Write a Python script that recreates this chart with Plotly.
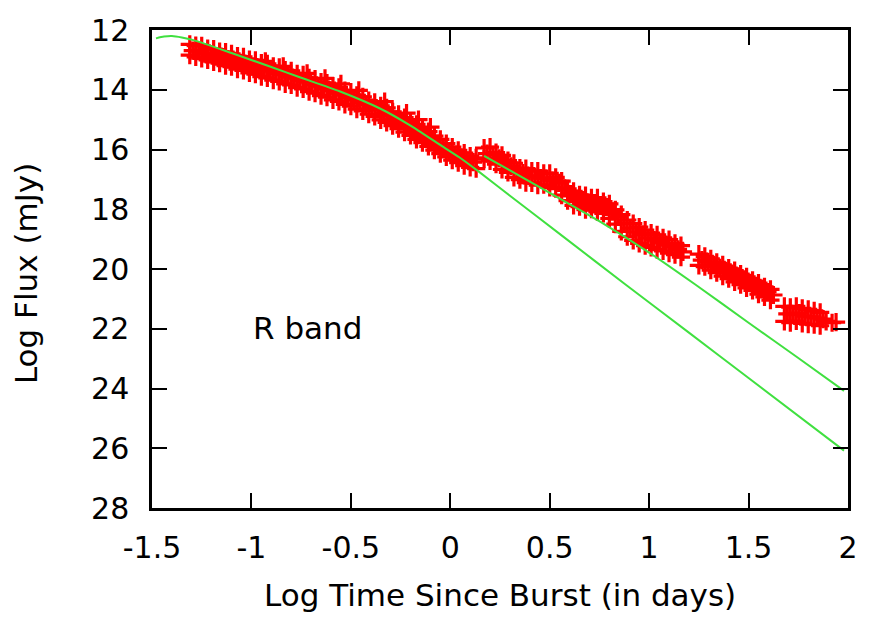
import plotly.graph_objects as go

# ---------------- observed R-band points (log t [days], log flux) ----------------
# early decline, three rows across the band
early_t = [-1.31, -1.28, -1.25, -1.22, -1.19, -1.16, -1.13, -1.10, -1.07, -1.04,
           -1.01, -0.98, -0.95, -0.92, -0.89, -0.86, -0.83, -0.80, -0.77, -0.74,
           -0.71, -0.68, -0.65, -0.62, -0.59, -0.56, -0.53, -0.50, -0.47, -0.44,
           -0.41, -0.38, -0.35, -0.32, -0.29, -0.26, -0.23, -0.20, -0.17, -0.14,
           -0.11, -0.08, -0.05, -0.02, 0.01, 0.04, 0.07, 0.10, 0.13]
early_hi = [12.48, 12.52, 12.53, 12.62, 12.64, 12.72, 12.74, 12.80, 12.87, 12.90,
            12.99, 13.02, 13.11, 13.13, 13.22, 13.25, 13.34, 13.37, 13.47, 13.50,
            13.60, 13.64, 13.74, 13.78, 13.88, 13.92, 14.03, 14.08, 14.19, 14.24,
            14.36, 14.42, 14.54, 14.61, 14.74, 14.82, 14.93, 15.06, 15.16, 15.30,
            15.40, 15.55, 15.66, 15.80, 15.92, 16.03, 16.12, 16.22, 16.28]
early_lo = [12.84, 12.90, 12.95, 13.00, 13.07, 13.11, 13.19, 13.23, 13.31, 13.35,
            13.44, 13.48, 13.56, 13.60, 13.68, 13.72, 13.80, 13.84, 13.93, 13.97,
            14.06, 14.11, 14.20, 14.25, 14.34, 14.39, 14.49, 14.55, 14.65, 14.71,
            14.82, 14.89, 15.01, 15.09, 15.20, 15.30, 15.42, 15.53, 15.66, 15.77,
            15.90, 16.02, 16.14, 16.25, 16.36, 16.44, 16.54, 16.60, 16.64]
early_mid_t = [-1.295, -1.265, -1.235, -1.205, -1.175, -1.145, -1.115, -1.085, -1.055, -1.025,
               -0.995, -0.965, -0.935, -0.905, -0.875, -0.845, -0.815, -0.785, -0.755, -0.725,
               -0.695, -0.665, -0.635, -0.605, -0.575, -0.545, -0.515, -0.485, -0.455, -0.425,
               -0.395, -0.365, -0.335, -0.305, -0.275, -0.245, -0.215, -0.185, -0.155, -0.125,
               -0.095, -0.065, -0.035, -0.005, 0.025, 0.055, 0.085, 0.115]
early_mid = [12.69, 12.71, 12.79, 12.81, 12.89, 12.91, 12.99, 13.03, 13.10, 13.14,
             13.22, 13.26, 13.34, 13.37, 13.45, 13.49, 13.57, 13.61, 13.70, 13.74,
             13.84, 13.88, 13.97, 14.02, 14.11, 14.17, 14.26, 14.33, 14.42, 14.49,
             14.60, 14.67, 14.78, 14.86, 14.99, 15.07, 15.21, 15.31, 15.45, 15.55,
             15.70, 15.80, 15.95, 16.05, 16.17, 16.26, 16.36, 16.42]
stray_t = [-0.93, -0.84, -0.72, -0.63, -0.55, -0.46, -0.33, -0.22, -0.16, -0.10]
stray_f = [13.05, 13.22, 13.45, 13.62, 13.80, 14.02, 14.40, 14.78, 15.00, 15.25]

# re-brightening segment
rebr_t = [0.17, 0.20, 0.23, 0.26, 0.29, 0.32, 0.35, 0.38, 0.41, 0.44,
          0.47, 0.50, 0.53, 0.56, 0.59, 0.62, 0.65, 0.68, 0.71, 0.74,
          0.77, 0.80, 0.83, 0.86, 0.89, 0.92, 0.95, 0.98, 1.01, 1.04,
          1.07, 1.10, 1.13, 1.16]
rebr_hi = [15.95, 15.92, 16.10, 16.20, 16.37, 16.46, 16.62, 16.64, 16.72, 16.72,
           16.80, 16.80, 16.93, 17.06, 17.32, 17.40, 17.52, 17.54, 17.62, 17.62,
           17.74, 17.82, 18.02, 18.18, 18.36, 18.48, 18.60, 18.70, 18.80, 18.86,
           18.96, 19.02, 19.14, 19.22]
rebr_lo = [16.32, 16.38, 16.49, 16.67, 16.77, 16.93, 17.01, 17.11, 17.12, 17.19,
           17.18, 17.27, 17.31, 17.53, 17.71, 17.87, 17.91, 18.01, 18.00, 18.09,
           18.14, 18.31, 18.50, 18.74, 18.92, 19.04, 19.14, 19.22, 19.28, 19.35,
           19.39, 19.47, 19.52, 19.60]
rebr_mid_t = [0.185, 0.215, 0.245, 0.275, 0.305, 0.335, 0.365, 0.395, 0.425, 0.455,
              0.485, 0.515, 0.545, 0.575, 0.605, 0.635, 0.665, 0.695, 0.725, 0.755,
              0.785, 0.815, 0.845, 0.875, 0.905, 0.935, 0.965, 0.995, 1.025, 1.055,
              1.085, 1.115, 1.145, 1.170]
rebr_mid = [16.14, 16.18, 16.30, 16.45, 16.56, 16.70, 16.79, 16.88, 16.91, 16.96,
            16.97, 17.04, 17.12, 17.30, 17.49, 17.64, 17.69, 17.78, 17.79, 17.86,
            17.93, 18.08, 18.26, 18.47, 18.63, 18.76, 18.85, 18.96, 19.03, 19.12,
            19.18, 19.26, 19.34, 19.43]

# late cluster 1
late1_t = [1.25, 1.28, 1.31, 1.34, 1.37, 1.40, 1.43, 1.46, 1.49, 1.52, 1.55, 1.58, 1.61]
late1_hi = [19.50, 19.58, 19.66, 19.78, 19.86, 19.97, 20.05, 20.17, 20.26, 20.38, 20.47, 20.60, 20.68]
late1_lo = [19.88, 19.92, 20.04, 20.12, 20.24, 20.32, 20.43, 20.52, 20.63, 20.72, 20.84, 20.93, 21.04]
late1_mid_t = [1.265, 1.295, 1.325, 1.355, 1.385, 1.415, 1.445, 1.475, 1.505, 1.535, 1.565, 1.595, 1.625]
late1_mid = [19.70, 19.76, 19.86, 19.96, 20.06, 20.15, 20.25, 20.35, 20.46, 20.56, 20.66, 20.77, 20.87]

# late cluster 2
late2_t = [1.68, 1.71, 1.74, 1.77, 1.80, 1.83, 1.86]
late2_hi = [21.25, 21.28, 21.25, 21.32, 21.35, 21.40, 21.45]
late2_lo = [21.75, 21.80, 21.74, 21.82, 21.85, 21.86, 21.90]
late2_mid_t = [1.695, 1.725, 1.755, 1.785, 1.815, 1.845, 1.875]
late2_mid = [21.50, 21.52, 21.48, 21.58, 21.60, 21.64, 21.68]
tail_t = [1.89, 1.92, 1.94]
tail_f = [21.75, 21.80, 21.78]

# ---------------- model curves ----------------
model1_t = [-1.48, -1.44, -1.40, -1.35, -1.27, -1.10, -0.90, -0.757, -0.557, -0.356,
            -0.20, -0.055, 0.045, 0.145, 0.30, 0.563, 0.881, 1.20, 1.50, 1.98]
model1_f = [12.28, 12.22, 12.20, 12.25, 12.38, 12.77, 13.24, 13.58, 14.05, 14.62,
            15.20, 15.83, 16.26, 16.75, 17.55, 18.89, 20.52, 22.13, 23.65, 26.08]
model2_t = [0.17, 0.30, 0.50, 0.747, 1.00, 1.232, 1.50, 1.75, 1.98]
model2_f = [16.21, 16.70, 17.45, 18.39, 19.45, 20.52, 21.80, 22.98, 24.08]

x_tickvals = [-1.5, -1, -0.5, 0, 0.5, 1, 1.5, 2]
x_ticktext = ["-1.5", "-1", "-0.5", "0", "0.5", "1", "1.5", "2"]
y_tickvals = [12, 14, 16, 18, 20, 22, 24, 26, 28]
y_ticktext = ["12", "14", "16", "18", "20", "22", "24", "26", "28"]

obs_t = (early_t + early_t + early_mid_t + stray_t + rebr_t + rebr_t + rebr_mid_t
         + late1_t + late1_t + late1_mid_t + late2_t + late2_t + late2_mid_t + tail_t)
obs_f = (early_hi + early_lo + early_mid + stray_f + rebr_hi + rebr_lo + rebr_mid
         + late1_hi + late1_lo + late1_mid + late2_hi + late2_lo + late2_mid + tail_f)

FONT = "DejaVu Sans"
GREEN = "#40e040"

fig = go.Figure()
fig.add_trace(go.Scatter(
    x=obs_t, y=obs_f, mode="markers",
    marker=dict(symbol="cross-thin", size=13, color="#ff0000",
                line=dict(color="#ff0000", width=3.2)),
    showlegend=False, hoverinfo="skip"))
fig.add_trace(go.Scatter(x=model1_t, y=model1_f, mode="lines",
                         line=dict(color=GREEN, width=2, shape="spline", smoothing=0.6),
                         showlegend=False))
fig.add_trace(go.Scatter(x=model2_t, y=model2_f, mode="lines",
                         line=dict(color=GREEN, width=2, shape="spline", smoothing=0.6),
                         showlegend=False))

axis_common = dict(showline=True, linecolor="black", linewidth=2.5, mirror="ticks",
                   ticks="inside", ticklen=15, tickwidth=2.2, tickcolor="black",
                   showgrid=False, zeroline=False,
                   tickfont=dict(family=FONT, size=30, color="black"))

fig.update_xaxes(range=[-1.5, 2], tickmode="array", tickvals=x_tickvals,
                 ticktext=x_ticktext, ticklabelstandoff=11, **axis_common)
fig.update_yaxes(range=[28, 12], tickmode="array", tickvals=y_tickvals,
                 ticktext=y_ticktext, ticklabelstandoff=14, **axis_common)

fig.add_annotation(text="Log Time Since Burst (in days)", xref="paper", yref="paper",
                   x=0.5, y=-0.182, xanchor="center", yanchor="middle", showarrow=False,
                   font=dict(family=FONT, size=31, color="black"))
fig.add_annotation(text="Log Flux (mJy)", xref="paper", yref="paper",
                   x=-0.182, y=0.49, xanchor="center", yanchor="middle", showarrow=False,
                   textangle=-90, font=dict(family=FONT, size=31, color="black"))
fig.add_annotation(text="R band", xref="x", yref="y", x=-0.72, y=21.97,
                   xanchor="center", yanchor="middle", showarrow=False,
                   font=dict(family=FONT, size=31, color="black"))

fig.update_layout(width=870, height=618, margin=dict(l=152, r=20, t=20, b=110),
                  paper_bgcolor="white", plot_bgcolor="white")

fig.write_html("out.html")
